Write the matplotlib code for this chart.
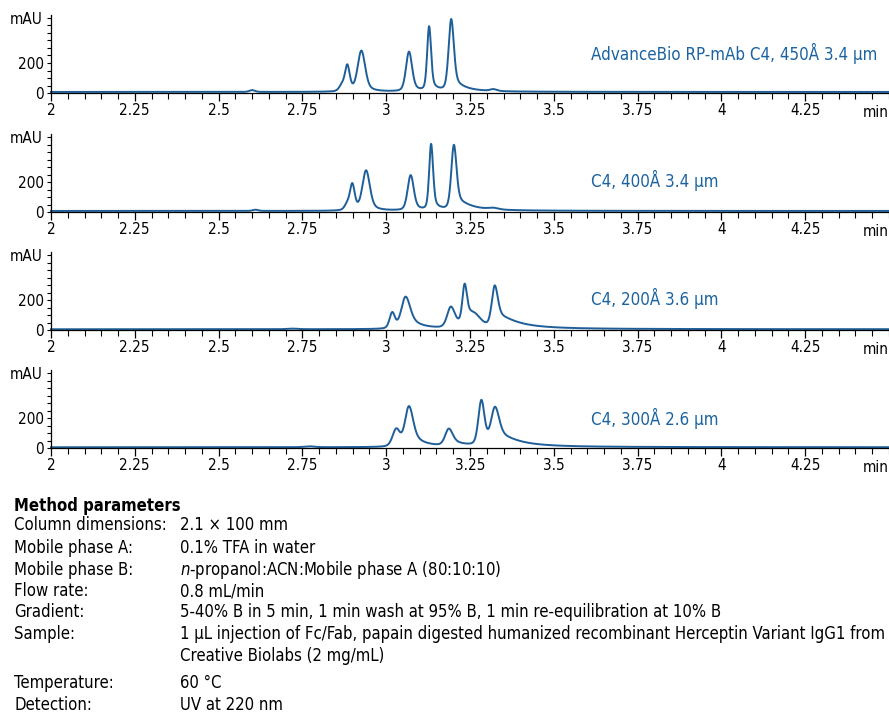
import numpy as np
import matplotlib
matplotlib.use("Agg")
import matplotlib.pyplot as plt
from matplotlib.ticker import MultipleLocator, FixedLocator, FixedFormatter

plt.rcParams['font.family'] = ['DejaVu Sans']
plt.rcParams['font.stretch'] = 'condensed'
plt.rcParams['mathtext.fontset'] = 'custom'
plt.rcParams['mathtext.it'] = 'DejaVu Sans:italic'

BLUE = '#1f5f99'
TEXT_BLUE = '#1b63a0'

# column labels, one per trace
labels = ['AdvanceBio RP-mAb C4, 450Å 3.4 µm',
          'C4, 400Å 3.4 µm',
          'C4, 200Å 3.6 µm',
          'C4, 300Å 2.6 µm']

# peak tables (min, mAU)
# columns: retention time, height, sigma, tail fraction, tail width
peaks_450 = [(2.600, 12, 0.008, 0.0, 0.02),
             (2.868, 40, 0.008, 0.0, 0.02),
             (2.884, 170, 0.007, 0.1, 0.02),
             (2.926, 270, 0.011, 0.15, 0.02),
             (3.068, 265, 0.009, 0.12, 0.02),
             (3.128, 430, 0.0058, 0.1, 0.02),
             (3.194, 480, 0.0078, 0.12, 0.04),
             (3.320, 12, 0.010, 0.0, 0.02)]
peaks_400 = [(2.610, 8, 0.008, 0.0, 0.02),
             (2.884, 40, 0.008, 0.0, 0.02),
             (2.899, 170, 0.007, 0.1, 0.02),
             (2.940, 265, 0.011, 0.15, 0.02),
             (3.073, 235, 0.009, 0.12, 0.02),
             (3.134, 440, 0.0058, 0.1, 0.02),
             (3.202, 435, 0.0078, 0.15, 0.05),
             (3.320, 10, 0.015, 0.0, 0.02)]
peaks_200 = [(2.720, 4, 0.015, 0.0, 0.02),
             (3.018, 105, 0.008, 0.0, 0.02),
             (3.058, 215, 0.013, 0.3, 0.04),
             (3.193, 140, 0.011, 0.3, 0.03),
             (3.234, 255, 0.0068, 0.2, 0.03),
             (3.262, 70, 0.020, 0.0, 0.02),
             (3.324, 280, 0.009, 0.3, 0.07)]
peaks_300 = [(2.770, 6, 0.015, 0.0, 0.02),
             (3.030, 115, 0.011, 0.0, 0.02),
             (3.068, 270, 0.012, 0.25, 0.04),
             (3.187, 115, 0.011, 0.3, 0.04),
             (3.284, 300, 0.009, 0.1, 0.03),
             (3.325, 250, 0.012, 0.3, 0.07)]
peak_tables = [peaks_450, peaks_400, peaks_200, peaks_300]
baselines = [7, 7, 5, 5]

# method parameters block
param_names = ['Column dimensions:', 'Mobile phase A:', 'Mobile phase B:',
               'Flow rate:', 'Gradient:', 'Sample:', '', 'Temperature:',
               'Detection:']
param_values = ['2.1 × 100 mm', '0.1% TFA in water',
                r'$n$-propanol:ACN:Mobile phase A (80:10:10)',
                '0.8 mL/min',
                '5-40% B in 5 min, 1 min wash at 95% B, 1 min re-equilibration at 10% B',
                '1 µL injection of Fc/Fab, papain digested humanized recombinant Herceptin Variant IgG1 from',
                'Creative Biolabs (2 mg/mL)',
                '60 °C', 'UV at 220 nm']
param_y = [525, 548, 570, 591, 612, 634, 656, 683, 705]


def peak(t, t0, h, s, a, w):
    # gaussian/lorentzian mix, extra lorentzian tail on the right side
    dt = t - t0
    core = 0.7 * np.exp(-0.5 * (dt / s) ** 2) + 0.3 / (1 + (dt / (1.18 * s)) ** 2)
    tail = (1 - a) * core + a / (1 + (dt / w) ** 2)
    return h * np.where(dt < 0, core, tail)


t = np.linspace(2, 4.5, 3000)

W, H = 889, 713
fig = plt.figure(figsize=(W / 100, H / 100), dpi=100)

bottoms = [93, 212, 330, 448]
label_y = [0.51, 0.41, 0.41, 0.385]
for i in range(4):
    y = np.full_like(t, baselines[i], dtype=float)
    for p in peak_tables[i]:
        y += peak(t, *p)
    ax = fig.add_axes([51 / W, 1 - bottoms[i] / H, 838 / W, 78 / H])
    ax.plot(t, y, color=BLUE, lw=1.4, clip_on=False)
    ax.set_xlim(2, 4.5)
    ax.set_ylim(0, 520)
    for s in ['top', 'right']:
        ax.spines[s].set_visible(False)
    ax.spines['left'].set_linewidth(0.9)
    ax.spines['bottom'].set_linewidth(0.9)
    ax.xaxis.set_major_locator(FixedLocator(np.arange(2, 4.3, 0.25)))
    ax.xaxis.set_major_formatter(FixedFormatter(['2', '2.25', '2.5', '2.75', '3', '3.25',
                                                 '3.5', '3.75', '4', '4.25']))
    ax.xaxis.set_minor_locator(MultipleLocator(0.05))
    ax.yaxis.set_major_locator(FixedLocator([0, 200, 400]))
    ax.yaxis.set_major_formatter(FixedFormatter(['0', '200', '']))
    ax.yaxis.set_minor_locator(MultipleLocator(50))
    ax.tick_params(axis='x', which='major', length=6, width=0.9, labelsize=11, pad=1)
    ax.tick_params(axis='x', which='minor', length=4, width=0.8)
    ax.tick_params(axis='y', which='both', length=3, width=0.8, labelsize=11, pad=2)
    ax.text(1.0, -0.16, 'min', transform=ax.transAxes, ha='right', va='top', fontsize=11)
    ax.text(-0.01, 0.94, 'mAU', transform=ax.transAxes, ha='right', va='center', fontsize=11)
    ax.text((591 - 51) / 838, label_y[i], labels[i], transform=ax.transAxes, ha='left',
            va='center', fontsize=12.2, color=TEXT_BLUE)

fig.text(14 / W, 1 - 506 / H, 'Method parameters', fontsize=12, weight='bold', va='center')
for name, val, yy in zip(param_names, param_values, param_y):
    fig.text(14 / W, 1 - yy / H, name, fontsize=12, va='center')
    fig.text(180 / W, 1 - yy / H, val, fontsize=12, va='center')

fig.savefig('out.png', dpi=100)
